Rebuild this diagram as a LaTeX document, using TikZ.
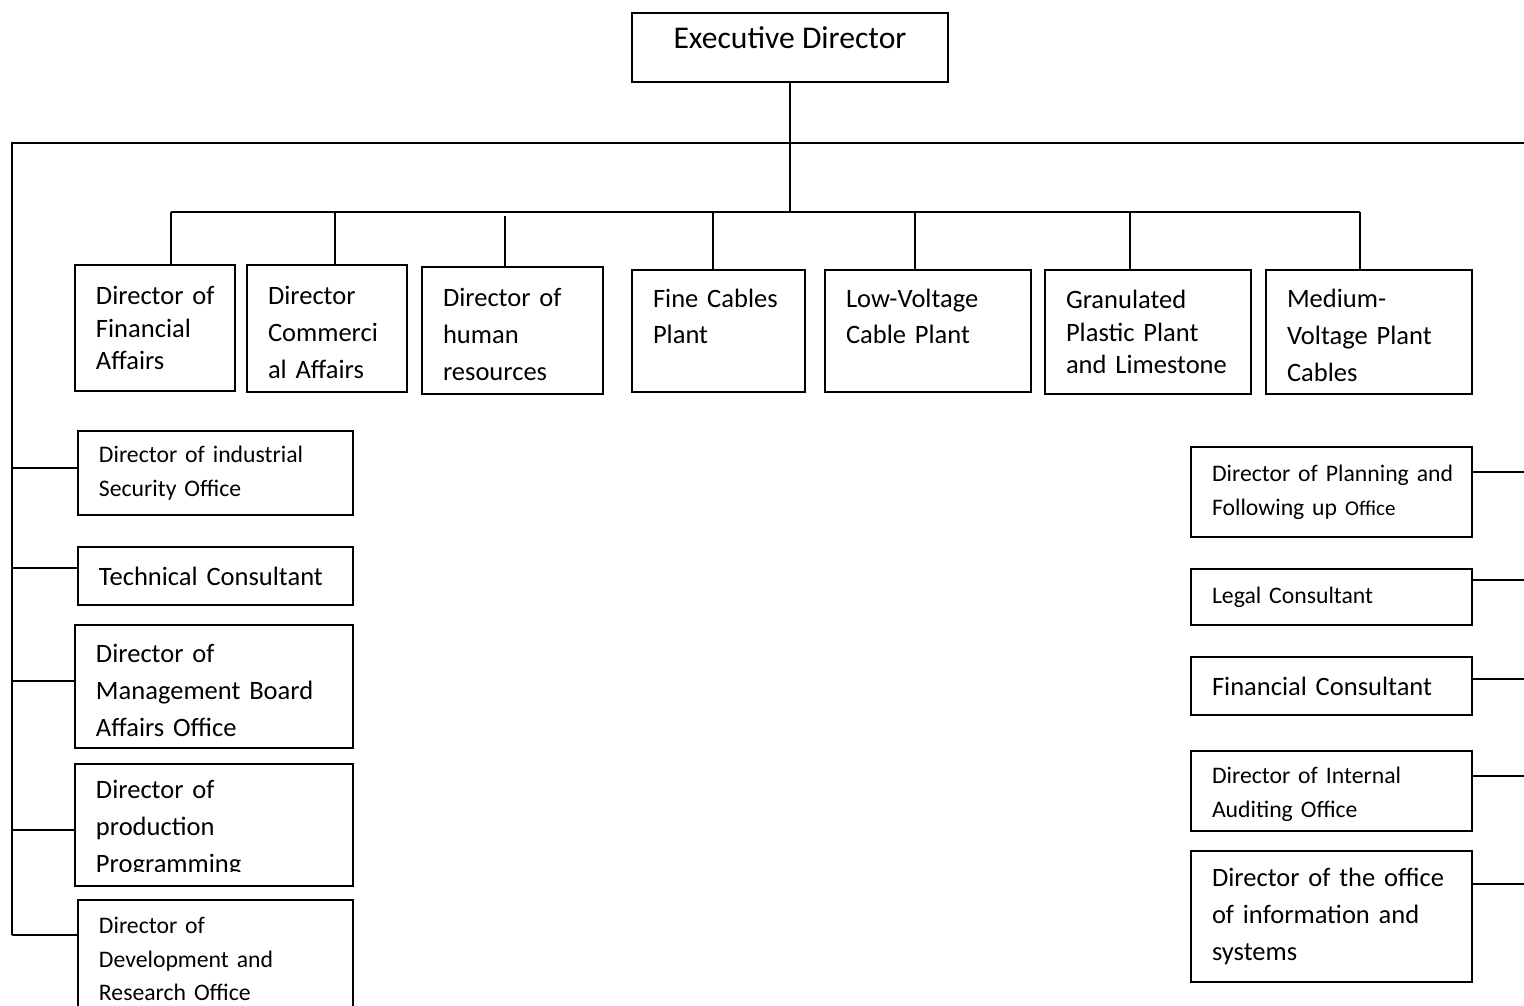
\documentclass[tikz,border=0pt]{standalone}
\usepackage{fontspec}
\setmainfont{Carlito}
\usepackage{tikz}

\tikzset{
  link/.style={line width=1pt},
  obox/.style={draw,line width=1pt,anchor=north west,align=left,inner xsep=0.42cm,inner ysep=0pt,outer sep=0pt},
  topbox/.style={draw,line width=1pt,anchor=north west,align=center,inner sep=0pt,outer sep=0pt},
  big/.style={font=\fontsize{15.1}{21}\selectfont},
  small/.style={font=\fontsize{13.5}{19.3}\selectfont},
}

\begin{document}
\begin{tikzpicture}[x=0.02cm,y=-0.02cm]
\clip (0,0) rectangle (1524,1006);

\path (632,13) node[topbox,minimum width=6.32cm,minimum height=1.38cm,text depth=0.4cm,font=\fontsize{18}{22}\selectfont] (exec) {Executive Director};

\path (75,265) node[obox,text width=2.36cm,minimum height=2.52cm,font=\fontsize{15.1}{18.4}\selectfont] (fin) {\mbox{Director of}\\Financial\\Affairs};
\path (247,265) node[obox,big,text width=2.36cm,minimum height=2.54cm] (com) {\strut Director\\Commerci\\al Affairs};
\path (422,267) node[obox,big,text width=2.78cm,minimum height=2.54cm] (hum) {\strut Director of\\human\\resources};
\path (632,270) node[obox,big,text width=2.62cm,minimum height=2.44cm] (fine) {\strut Fine Cables\\Plant\\~};
\path (825,270) node[obox,big,text width=3.28cm,minimum height=2.44cm] (low) {\strut Low-Voltage\\Cable Plant\\~};
\path (1045,270) node[obox,text width=3.28cm,minimum height=2.48cm,font=\fontsize{15.1}{18.7}\selectfont] (gran) {Granulated\\Plastic Plant\\and Limestone};
\path (1266,270) node[obox,big,text width=3.28cm,minimum height=2.48cm] (med) {\strut Medium-\\Voltage Plant\\Cables};

\path (78,431) node[obox,small,text width=4.66cm,minimum height=1.68cm] (ind) {Director of industrial\\Security Office};
\path (78,547) node[obox,big,text width=4.66cm,minimum height=1.16cm] (tech) {Technical Consultant};
\path (75,625) node[obox,big,text width=4.72cm,minimum height=2.46cm] (man) {\strut Director of\\Management Board\\Affairs Office};
\begin{scope}
\clip (0,0) rectangle (1524,871.5);
\path (75,764) node[obox,big,text width=4.72cm,minimum height=2.44cm] (prod) {\strut Director of\\production\\Programming};
\end{scope}
\draw[link] (prod.south west) rectangle (prod.north east);
\path (78,900) node[obox,small,text width=4.66cm,minimum height=2.36cm] (dev) {Director of\\Development and\\Research Office};

\path (1191,447) node[obox,small,text width=4.78cm,minimum height=1.80cm] (plan) {\mbox{Director of Planning and}\\Following up {\fontsize{12}{19.3}\selectfont Office}};
\path (1191,569) node[obox,small,text width=4.78cm,minimum height=1.12cm] (legal) {Legal Consultant};
\path (1191,657) node[obox,big,text width=4.78cm,minimum height=1.16cm] (fcons) {Financial Consultant};
\path (1191,751) node[obox,small,text width=4.78cm,minimum height=1.60cm] (audit) {\strut Director of Internal\\Auditing Office};
\path (1191,851) node[obox,big,text width=4.78cm,minimum height=2.62cm] (info) {Director of the office\\of information and\\systems};

\coordinate (lbus) at (12,143);
\coordinate (rbus) at (1526,143);
\coordinate (bus2) at (0,212);

\coordinate (fint) at ([xshift=0.32cm]fin.north);
\coordinate (comt) at ([xshift=0.16cm]com.north);
\coordinate (humt) at ([xshift=-0.15cm]hum.north);
\coordinate (finet) at ([xshift=-0.11cm]fine.north);
\coordinate (lowt) at ([xshift=-0.26cm]low.north);
\coordinate (grant) at ([xshift=-0.36cm]gran.north);
\coordinate (medt) at ([xshift=-0.18cm]med.north);

\coordinate (indl) at ([yshift=0.1cm]ind.west);
\coordinate (techl) at ([yshift=0.16cm]tech.west);
\coordinate (manl) at ([yshift=0.11cm]man.west);
\coordinate (prodl) at ([yshift=-0.1cm]prod.west);
\coordinate (devl) at ([yshift=0.48cm]dev.west);

\coordinate (planr) at ([yshift=0.4cm]plan.east);
\coordinate (legalr) at ([yshift=0.34cm]legal.east);
\coordinate (fconsr) at ([yshift=0.14cm]fcons.east);
\coordinate (auditr) at ([yshift=0.3cm]audit.east);
\coordinate (infor) at ([yshift=0.65cm]info.east);

\draw[link] (exec.south) -- (exec.south |- bus2);
\draw[link] (rbus) -- (lbus) -- (lbus |- devl);
\draw[link] (fint |- bus2) -- (medt |- bus2);

\draw[link] (fint |- bus2) -- (fint);
\draw[link] (comt |- bus2) -- (comt);
\draw[link] ([yshift=-0.08cm]humt |- bus2) -- (humt);
\draw[link] (finet |- bus2) -- (finet);
\draw[link] (lowt |- bus2) -- (lowt);
\draw[link] (grant |- bus2) -- (grant);
\draw[link] (medt |- bus2) -- (medt);

\draw[link] (lbus |- indl) -- (indl);
\draw[link] (lbus |- techl) -- (techl);
\draw[link] (lbus |- manl) -- (manl);
\draw[link] (lbus |- prodl) -- (prodl);
\draw[link] (lbus |- devl) -- (devl);

\draw[link] (planr) -- (rbus |- planr);
\draw[link] (legalr) -- (rbus |- legalr);
\draw[link] (fconsr) -- (rbus |- fconsr);
\draw[link] (auditr) -- (rbus |- auditr);
\draw[link] (infor) -- (rbus |- infor);
\end{tikzpicture}
\end{document}
